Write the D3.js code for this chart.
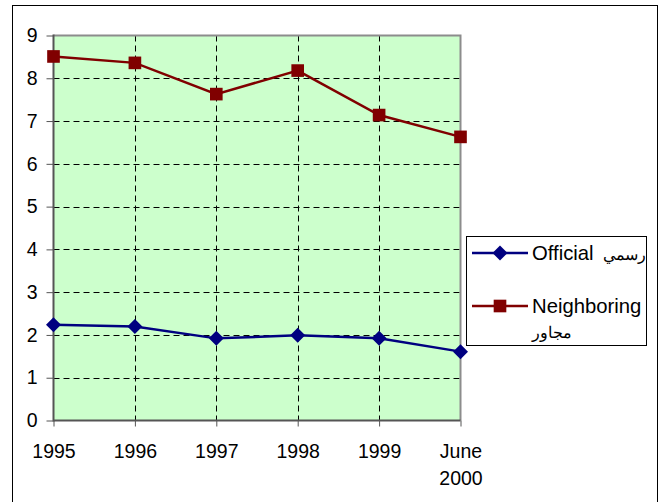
<!DOCTYPE html>
<html>
<head>
<meta charset="utf-8">
<script src="https://cdn.jsdelivr.net/npm/d3@7"></script>
<style>
  body { margin: 0; background: #fff; }
  svg text { font-family: "Liberation Sans", Arial, sans-serif; }
</style>
</head>
<body>
<div id="chart"></div>
<script>
const categories = ["1995", "1996", "1997", "1998", "1999", "June 2000"];
const official = [2.24, 2.20, 1.92, 1.99, 1.92, 1.61];
const neighboring = [8.51, 8.36, 7.63, 8.18, 7.14, 6.63];
const yTicks = [0, 1, 2, 3, 4, 5, 6, 7, 8, 9];

const W = 662, H = 502;
const FONT = 19.5;
const plot = { left: 53.5, right: 460.5, top: 35.5, bottom: 420.5 };

// wide diamond like the spreadsheet marker
const wideDiamond = {
	draw (ctx, size) {
		const r = Math.sqrt(size) / 2;
		ctx.moveTo(0, -r);
		ctx.lineTo(r, 0);
		ctx.lineTo(0, r);
		ctx.lineTo(-r, 0);
		ctx.closePath();
	}
};

const svg = d3.select("#chart").append("svg")
	.attr("width", W)
	.attr("height", H);

// outer chart frame (bottom runs off the picture)
svg.append("rect")
	.attr("x", 12.5).attr("y", 5.5)
	.attr("width", 645).attr("height", 510)
	.attr("fill", "#fff")
	.attr("stroke", "#000")
	.attr("stroke-width", 1);

const x = d3.scalePoint()
	.domain(categories)
	.range([plot.left, plot.right]);

const y = d3.scaleLinear()
	.domain([0, 9])
	.range([plot.bottom, plot.top]);

// plot area
svg.append("rect")
	.attr("x", plot.left).attr("y", plot.top)
	.attr("width", plot.right - plot.left)
	.attr("height", plot.bottom - plot.top)
	.attr("fill", "#ccffcc");

// grid
const grid = svg.append("g")
	.attr("stroke", "#000")
	.attr("stroke-width", 1)
	.attr("stroke-dasharray", "6,4");

grid.selectAll(".hg")
	.data(yTicks.filter(d => d > 0 && d < 9))
	.enter().append("line")
	.attr("x1", plot.left).attr("x2", plot.right)
	.attr("y1", d => Math.round(y(d)) + 0.5)
	.attr("y2", d => Math.round(y(d)) + 0.5);

grid.selectAll(".vg")
	.data(categories.slice(1, -1))
	.enter().append("line")
	.attr("x1", d => Math.round(x(d)) + 0.5)
	.attr("x2", d => Math.round(x(d)) + 0.5)
	.attr("y1", plot.top).attr("y2", plot.bottom);

// border top + right
svg.append("path")
	.attr("d", `M${plot.left},${plot.top}H${plot.right}V${plot.bottom}`)
	.attr("fill", "none")
	.attr("stroke", "#8c8c8c")
	.attr("stroke-width", 2);

// axes
const yAxis = d3.axisLeft(y)
	.tickValues(yTicks)
	.tickSize(7)
	.tickPadding(9)
	.tickFormat(d3.format("d"));

const gy = svg.append("g")
	.attr("transform", `translate(${plot.left},0)`)
	.call(yAxis);

gy.select(".domain").remove();
gy.selectAll(".tick line").attr("stroke", "#555");
gy.selectAll(".tick text")
	.attr("font-size", FONT)
	.attr("font-family", "Liberation Sans, Arial, sans-serif")
	.attr("fill", "#000");

const xAxis = d3.axisBottom(x)
	.tickSize(6)
	.tickPadding(17.5);

const gx = svg.append("g")
	.attr("transform", `translate(0,${plot.bottom})`)
	.call(xAxis);

gx.select(".domain").remove();
gx.selectAll(".tick line").attr("stroke", "#555");
gx.selectAll(".tick text")
	.attr("font-size", FONT)
	.attr("font-family", "Liberation Sans, Arial, sans-serif")
	.attr("fill", "#000")
	.each(function (d) {
		const t = d3.select(this);
		const lines = d.split(" ");
		t.text(null);
		lines.forEach((ln, i) => {
			t.append("tspan")
				.attr("x", 0)
				.attr("dy", i === 0 ? "0.71em" : 27.5)
				.text(ln);
		});
	})
	.attr("dy", null);

// axis lines
svg.append("line")
	.attr("x1", plot.left).attr("x2", plot.left)
	.attr("y1", plot.top - 1).attr("y2", plot.bottom + 1)
	.attr("stroke", "#555").attr("stroke-width", 2);
svg.append("line")
	.attr("x1", plot.left).attr("x2", plot.right)
	.attr("y1", plot.bottom).attr("y2", plot.bottom)
	.attr("stroke", "#555").attr("stroke-width", 2);

// series
const line = d3.line()
	.x((d, i) => x(categories[i]))
	.y(d => y(d));

const series = [
	{ name: "Official", values: official, color: "#000080", symbol: wideDiamond, size: 225 },
	{ name: "Neighboring", values: neighboring, color: "#800000", symbol: d3.symbolSquare, size: 160 }
];

series.forEach(s => {
	svg.append("path")
		.datum(s.values)
		.attr("d", line)
		.attr("fill", "none")
		.attr("stroke", s.color)
		.attr("stroke-width", 2.5);

	svg.selectAll(null)
		.data(s.values)
		.enter().append("path")
		.attr("transform", (d, i) => `translate(${x(categories[i])},${y(d)})`)
		.attr("d", d3.symbol().type(s.symbol).size(s.size))
		.attr("fill", s.color);
});

// legend
const legend = svg.append("g");
legend.append("rect")
	.attr("x", 466.5).attr("y", 236.5)
	.attr("width", 180).attr("height", 109)
	.attr("fill", "#fff")
	.attr("stroke", "#000")
	.attr("stroke-width", 1);

const legendRows = [
	{ s: series[0], y: 253, en: "Official", ar: "رسمي", arNewLine: false },
	{ s: series[1], y: 306, en: "Neighboring", ar: "مجاور", arNewLine: true }
];

legendRows.forEach(r => {
	legend.append("line")
		.attr("x1", 472).attr("x2", 528)
		.attr("y1", r.y).attr("y2", r.y)
		.attr("stroke", r.s.color)
		.attr("stroke-width", 2.5);
	legend.append("path")
		.attr("transform", `translate(500,${r.y})`)
		.attr("d", d3.symbol().type(r.s.symbol).size(r.s.size))
		.attr("fill", r.s.color);
	const t = legend.append("text")
		.attr("x", 532)
		.attr("y", r.y + 7)
		.attr("font-size", 20.3)
		.attr("fill", "#000")
		.attr("direction", "ltr")
		.text(r.en);
	if (r.arNewLine) {
		legend.append("text")
			.attr("x", 532)
			.attr("y", r.y + 32)
			.attr("font-size", 16)
			.attr("font-family", "DejaVu Sans, sans-serif")
			.attr("fill", "#000")
			.attr("direction", "ltr")
			.text(r.ar);
	} else {
		legend.append("text")
			.attr("x", 603)
			.attr("y", r.y + 7)
			.attr("font-size", 16)
			.attr("font-family", "DejaVu Sans, sans-serif")
			.attr("fill", "#000")
			.attr("direction", "ltr")
			.text(r.ar);
	}
});
</script>
</body>
</html>
